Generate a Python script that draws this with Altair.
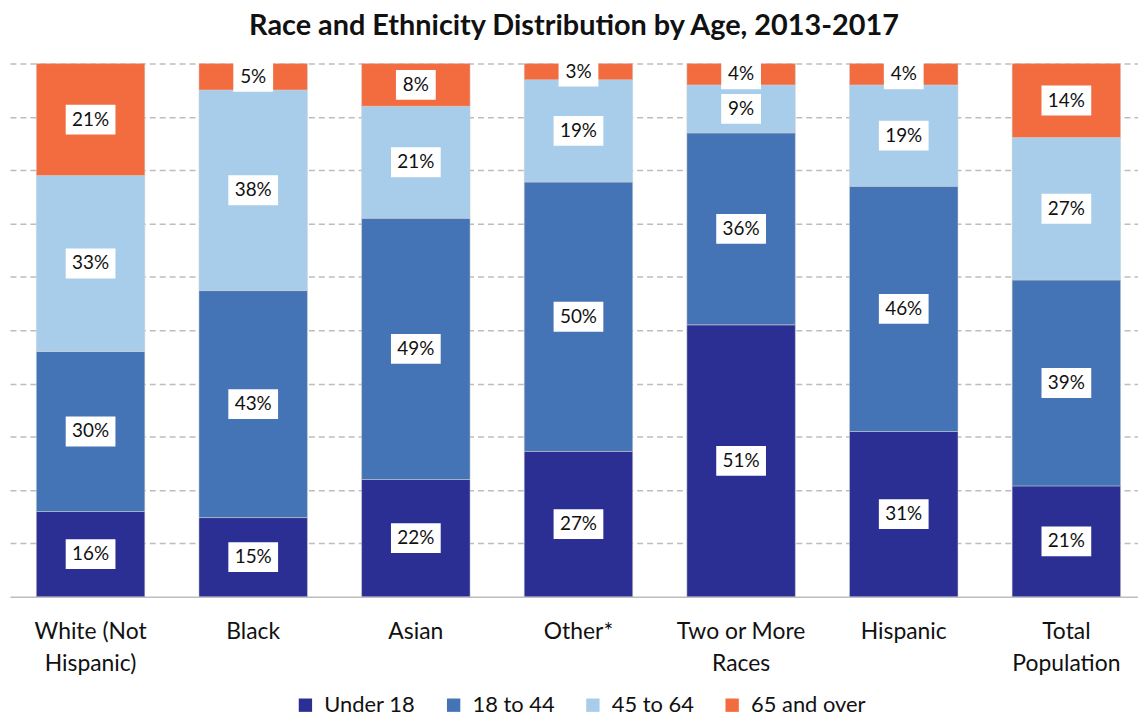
import altair as alt
import pandas as pd

categories = ["White (Not|Hispanic)", "Black", "Asian", "Other*", "Two or More|Races", "Hispanic", "Total|Population"]
groups = ["Under 18", "18 to 44", "45 to 64", "65 and over"]
under18 = [16, 15, 22, 27, 51, 31, 21]
age18_44 = [30, 43, 49, 50, 36, 46, 39]
age45_64 = [33, 38, 21, 19, 9, 19, 27]
age65 = [21, 5, 8, 3, 4, 4, 14]
colors = ["#2B2F94", "#4474B5", "#A8CDEA", "#F26C3F"]

rows = []
for i, c in enumerate(categories):
    for j, (g, vals) in enumerate(zip(groups, [under18, age18_44, age45_64, age65])):
        rows.append({"cat": c, "group": g, "order": j, "value": vals[i],
                     "label": f"{vals[i]}%", "bw": 50 if vals[i] >= 10 else 40})
df = pd.DataFrame(rows)

FONT = "Lato"

base = alt.Chart(df).transform_stack(
    stack="value", groupby=["cat"], sort=[alt.SortField("order", order="ascending")],
    as_=["y0", "y1"], offset="normalize"
).transform_calculate(mid="(datum.y0 + datum.y1) / 2")

xscale = alt.Scale(paddingInner=0.333, paddingOuter=0.162, range=[0, 1143])
xenc = alt.X("cat:N", sort=categories, title=None, scale=xscale,
             axis=alt.Axis(labelExpr="split(datum.label, '|')", labelFontSize=23,
                           labelColor="#111", labelFont=FONT, labelAngle=0, labelPadding=24,
                           labelLineHeight=32, ticks=False, domainColor="#BDBDBD",
                           domainWidth=1.5, grid=False))
yscale = alt.Scale(domain=[0, 1], nice=False)

bars = base.mark_bar(stroke="#D0D0D0", strokeWidth=0.5).encode(
    x=xenc,
    y=alt.Y("y0:Q", scale=yscale, title=None,
            axis=alt.Axis(labels=False, ticks=False, domain=False,
                          values=[0.1 * k for k in range(1, 11)],
                          gridDash=[6, 4], gridColor="#BDBDBD", gridWidth=1.5)),
    y2="y1:Q",
    color=alt.Color("group:N", sort=groups,
                    scale=alt.Scale(domain=groups, range=colors),
                    legend=alt.Legend(title=None, orient="none", direction="horizontal",
                                      legendX=286, legendY=634, symbolType="square",
                                      symbolSize=180, labelFontSize=22, labelFont=FONT,
                                      labelColor="#111", columnPadding=27,
                                      symbolStrokeWidth=0, labelOffset=8)),
)

boxes = base.mark_bar(color="white", yOffset=-15, y2Offset=15).encode(
    x=alt.X("cat:N", sort=categories),
    y=alt.Y("mid:Q", scale=yscale),
    y2="mid:Q",
    size=alt.Size("bw:Q", scale=None, legend=None),
)

texts = base.mark_text(fontSize=19, font=FONT, color="#111", baseline="middle").encode(
    x=alt.X("cat:N", sort=categories),
    y=alt.Y("mid:Q", scale=yscale),
    text="label:N",
)

chart = alt.layer(bars, boxes, texts).properties(
    width=1134, height=536,
    title=alt.Title("Race and Ethnicity Distribution by Age, 2013-2017", fontSize=29,
                    font=FONT, fontWeight="bold", color="#111", anchor="middle", offset=16),
    autosize=alt.AutoSizeParams(type="none"),
    padding={"left": 2, "top": 54, "right": 0, "bottom": 121},
).configure_view(stroke=None)

chart.save("out.html", embed_options={"renderer": "svg", "actions": False})
